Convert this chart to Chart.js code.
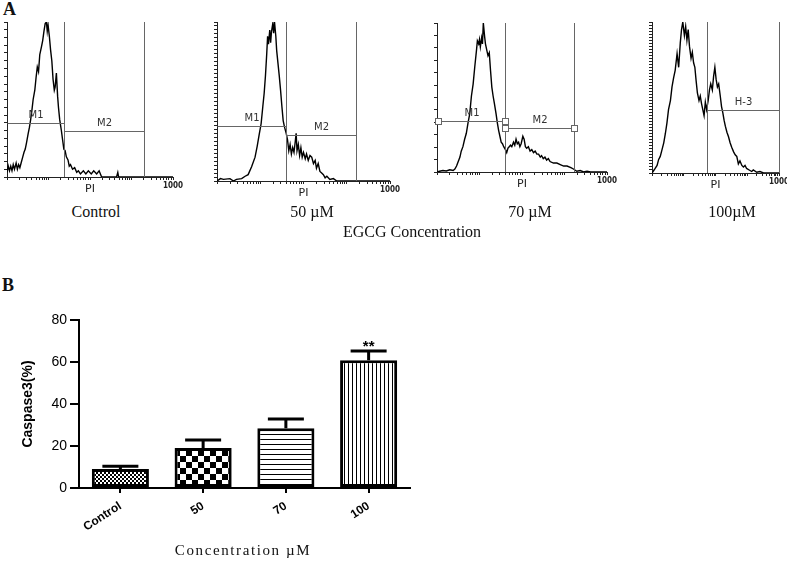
<!DOCTYPE html>
<html>
<head>
<meta charset="utf-8">
<script src="https://cdn.jsdelivr.net/npm/chart.js@4.4.1/dist/chart.umd.min.js"></script>
<style>
  body { margin: 0; background: #fff; }
  #fig { position: relative; width: 787px; height: 566px; overflow: hidden;
         font-family: "Liberation Serif", "Times New Roman", serif; color: #111; }
  canvas { position: absolute; }
  .t { position: absolute; transform: translate(-50%, -50%); white-space: nowrap; font-size: 16px; }
  .panel { position: absolute; font-weight: bold; font-size: 18px; }
</style>
</head>
<body>
<div id="fig">
  <div class="panel" style="left:3px;top:-1px">A</div>
  <div class="panel" style="left:2px;top:275px">B</div>
  <canvas id="histControl"></canvas>
  <canvas id="hist50"></canvas>
  <canvas id="hist70"></canvas>
  <canvas id="hist100"></canvas>
  <canvas id="barChart"></canvas>
  <div class="t" style="left:96px;top:212px">Control</div>
  <div class="t" style="left:312px;top:212px">50 µM</div>
  <div class="t" style="left:530px;top:212px">70 µM</div>
  <div class="t" style="left:732px;top:212px">100µM</div>
  <div class="t" style="left:412px;top:232px">EGCG Concentration</div>
  <div class="t" style="left:243px;top:550px;font-size:15px;letter-spacing:1.6px">Concentration µM</div>
</div>
<script>
// PI fluorescence in log decades (0..4), counts as % of the histogram peak
const controlPI = [0, 0.03, 0.06, 0.09, 0.12, 0.15, 0.18, 0.22, 0.25, 0.28,
  0.31, 0.34, 0.38, 0.41, 0.44, 0.47, 0.51, 0.54, 0.57, 0.60,
  0.63, 0.67, 0.70, 0.73, 0.76, 0.79, 0.83, 0.86, 0.89, 0.92,
  0.95, 0.97, 0.99, 1.02, 1.05, 1.08, 1.11, 1.14, 1.16, 1.19,
  1.22, 1.24, 1.27, 1.31, 1.34, 1.37, 1.40, 1.43, 1.47, 1.50,
  1.53, 1.58, 1.63, 1.68, 1.72, 1.77, 1.84, 1.90, 1.96, 2.03,
  2.09, 2.16, 2.22, 2.28, 2.64, 2.67, 2.69, 4.0];
const controlCounts = [3, 7, 4, 7, 4, 8, 5, 9, 5, 8,
  6, 9, 13, 16, 18, 22, 28, 32, 37, 43,
  50, 56, 64, 71, 68, 79, 84, 88, 94, 99,
  100, 94, 98, 91, 82, 75, 63, 56, 58, 67,
  52, 45, 37, 30, 24, 18, 17, 13, 11, 7,
  8, 5, 6, 3, 4, 2, 4, 2, 4, 2,
  4, 2, 4, 0, 0, 3, 0, 0];

const egcg50PI = [0, 0.08, 0.15, 0.30, 0.38, 0.45, 0.57, 0.65, 0.72, 0.80,
  0.88, 0.93, 0.98, 1.02, 1.06, 1.09, 1.12, 1.15, 1.17, 1.19,
  1.22, 1.24, 1.26, 1.29, 1.31, 1.33, 1.36, 1.38, 1.41, 1.44,
  1.47, 1.50, 1.53, 1.56, 1.60, 1.63, 1.66, 1.69, 1.72, 1.75,
  1.78, 1.81, 1.83, 1.85, 1.88, 1.91, 1.94, 1.97, 2.00, 2.04,
  2.07, 2.11, 2.15, 2.19, 2.23, 2.27, 2.30, 2.34, 2.38, 2.42,
  2.46, 2.50, 2.54, 2.61, 2.69, 2.77, 4.0];
const egcg50Counts = [0, 1.5, 1, 1.5, 0, 1, 1.5, 3, 4, 9,
  15, 22, 30, 36, 47, 55, 66, 80, 91, 86,
  95, 87, 94, 99, 93, 100, 91, 82, 74, 66,
  57, 47, 38, 34, 30, 26, 19, 23, 17, 21,
  18, 25, 30, 19, 23, 16, 21, 15, 18, 14,
  17, 13, 16, 15, 11, 13, 8, 11, 6, 5,
  4, 2, 3, 1, 1.5, 0, 0];

const egcg70PI = [0, 0.06, 0.14, 0.22, 0.30, 0.38, 0.42, 0.46, 0.50, 0.54,
  0.57, 0.61, 0.65, 0.69, 0.73, 0.77, 0.81, 0.85, 0.89, 0.93,
  0.95, 0.98, 1.00, 1.02, 1.05, 1.07, 1.09, 1.12, 1.14, 1.17,
  1.20, 1.23, 1.26, 1.29, 1.32, 1.35, 1.39, 1.42, 1.45, 1.48,
  1.51, 1.54, 1.57, 1.61, 1.64, 1.67, 1.70, 1.73, 1.76, 1.80,
  1.83, 1.86, 1.89, 1.92, 1.95, 1.98, 2.02, 2.05, 2.08, 2.11,
  2.15, 2.19, 2.23, 2.27, 2.31, 2.35, 2.39, 2.43, 2.46, 2.50,
  2.54, 2.58, 2.62, 2.66, 2.74, 2.82, 2.90, 2.98, 3.06, 3.15,
  3.21, 3.29, 3.37, 3.45, 3.53, 3.61, 4.0];
const egcg70Counts = [0, 0.5, 1, 0.7, 1.5, 1, 2, 4, 7, 10,
  14, 17, 22, 26, 33, 39, 51, 59, 71, 82,
  88, 86, 89, 84, 90, 86, 100, 91, 86, 82,
  78, 80, 68, 57, 51, 46, 39, 33, 28, 24,
  20, 19, 17, 15, 13, 16, 17, 18, 17, 20,
  18, 22, 19, 20, 17, 19, 24, 22, 17, 16,
  17, 14, 15, 13, 14, 12, 12, 10, 11, 9,
  10, 8, 9, 7, 6, 6, 5, 4, 4, 3,
  2, 0.5, 1, 0, 0.5, 0, 0];

const egcg100PI = [0, 0.05, 0.10, 0.16, 0.21, 0.26, 0.31, 0.37, 0.42, 0.47,
  0.52, 0.58, 0.63, 0.68, 0.73, 0.79, 0.84, 0.89, 0.93, 0.97,
  1.02, 1.06, 1.10, 1.14, 1.18, 1.23, 1.27, 1.31, 1.35, 1.39,
  1.43, 1.48, 1.52, 1.56, 1.60, 1.64, 1.68, 1.72, 1.77, 1.81,
  1.85, 1.90, 1.94, 1.98, 2.02, 2.06, 2.10, 2.15, 2.19, 2.23,
  2.27, 2.31, 2.36, 2.41, 2.46, 2.51, 2.57, 2.62, 2.67, 2.72,
  2.77, 2.83, 2.88, 2.93, 2.98, 3.06, 3.14, 3.19, 3.30, 3.40,
  3.51, 4.0];
const egcg100Counts = [0, 1.5, 3, 5, 9, 11, 15, 20, 26, 33,
  42, 48, 57, 63, 68, 79, 70, 86, 95, 100,
  91, 97, 88, 95, 84, 76, 80, 73, 70, 61,
  53, 48, 51, 46, 42, 38, 47, 42, 48, 55,
  59, 55, 64, 70, 62, 57, 59, 51, 44, 40,
  35, 31, 27, 24, 20, 17, 14, 12, 11, 6,
  8, 5, 4, 5, 3, 2, 1, 2, 0.5, 1,
  0, 0];

// marker gates (PI decades, level in % of peak)
const controlMarkers = [1.38, 3.31];
const controlGates = [
  { label: "M1", from: 0, to: 1.38, level: 34.8 },
  { label: "M2", from: 1.38, to: 3.31, level: 29.7 },
];
const egcg50Markers = [1.60, 3.21];
const egcg50Gates = [
  { label: "M1", from: 0, to: 1.60, level: 34.4 },
  { label: "M2", from: 1.60, to: 3.21, level: 29.1 },
];
const egcg70Markers = [1.59, 3.23];
const egcg70Gates = [
  { label: "M1", from: 0.02, to: 1.59, level: 34.5 },
  { label: "M2", from: 1.59, to: 3.23, level: 29.6 },
];
const egcg100Markers = [1.74, 4.0];
const egcg100Gates = [
  { label: "H-3", from: 1.74, to: 4.0, level: 41.9 },
];

// panel B
const concentrations = ["Control", "50", "70", "100"];
const caspase3 = [9, 19, 28.5, 60.8];
const caspase3Err = [1.4, 3.8, 4.3, 4.4];
const significance = ["", "", "", "**"];

const logTicks = [];
for (let k = 0; k < 4; k++) {
  for (let m = 1; m < 10; m++) logTicks.push(k + Math.log10(m));
}
logTicks.push(4);

const gatePlugin = {
  id: "gates",
  afterDatasetsDraw(chart, args, opts) {
    const { ctx, chartArea: area, scales } = chart;
    const x = scales.x;
    const y = scales.y;
    const px = (v) => Math.round(x.getPixelForValue(v)) + 0.5;
    const py = (v) => Math.round(y.getPixelForValue(v)) + 0.5;
    ctx.save();
    ctx.strokeStyle = "#666";
    ctx.lineWidth = 1;
    opts.markers.forEach((m) => {
      ctx.beginPath();
      ctx.moveTo(px(m), area.top);
      ctx.lineTo(px(m), area.bottom);
      ctx.stroke();
    });
    ctx.font = '10px "DejaVu Sans"';
    ctx.fillStyle = "#333";
    ctx.textAlign = "center";
    ctx.textBaseline = "bottom";
    opts.gates.forEach((g) => {
      const yy = py(g.level);
      ctx.beginPath();
      ctx.moveTo(px(g.from), yy);
      ctx.lineTo(px(g.to), yy);
      ctx.stroke();
      ctx.fillText(g.label, (px(g.from) + px(g.to)) / 2, yy - 3);
      if (opts.squares) {
        [g.from, g.to].forEach((v) => {
          ctx.fillStyle = "#fff";
          ctx.fillRect(px(v) - 3, yy - 3, 6, 6);
          ctx.strokeRect(px(v) - 3, yy - 3, 6, 6);
          ctx.fillStyle = "#333";
        });
      }
    });
    ctx.fillStyle = "#222";
    ctx.font = '11px "DejaVu Sans"';
    ctx.textBaseline = "middle";
    ctx.fillText("PI", (area.left + area.right) / 2, area.bottom + 12);
    ctx.font = 'bold 8px "DejaVu Sans Condensed", "DejaVu Sans"';
    ctx.fillText("1000", area.right, area.bottom + 9);
    ctx.restore();
  },
};

function makeHistogram(id, box, pi, counts, markers, gates, yStep, squares) {
  const yw = 8, padTop = 4, padRight = 18, xh = 24;
  const canvas = document.getElementById(id);
  canvas.width = box.right - box.left + yw + padRight;
  canvas.height = box.bottom - box.top + padTop + xh;
  canvas.style.left = box.left - yw + "px";
  canvas.style.top = box.top - padTop + "px";

  const yTicks = [];
  for (let v = 0; v <= 100.001; v += yStep) yTicks.push({ value: v });

  new Chart(canvas.getContext("2d"), {
    type: "line",
    data: {
      datasets: [
        {
          data: pi.map((v, i) => ({ x: v, y: counts[i] })),
          borderColor: "#000",
          borderWidth: 1.4,
          pointRadius: 0,
          tension: 0,
          fill: false,
        },
      ],
    },
    options: {
      responsive: false,
      animation: false,
      events: [],
      layout: { padding: { top: padTop, right: padRight, left: 0, bottom: 0 } },
      plugins: {
        legend: { display: false },
        tooltip: { enabled: false },
        gates: { markers, gates, squares },
      },
      scales: {
        x: {
          type: "linear",
          min: 0,
          max: 4,
          afterFit: (s) => { s.height = xh; },
          afterBuildTicks: (s) => { s.ticks = logTicks.map((v) => ({ value: v })); },
          ticks: { display: false },
          grid: { drawOnChartArea: false, tickLength: 3, color: "#222" },
          border: { color: "#222" },
        },
        y: {
          min: 0,
          max: 100,
          afterFit: (s) => { s.width = yw; },
          afterBuildTicks: (s) => { s.ticks = yTicks; },
          ticks: { display: false },
          grid: { drawOnChartArea: false, tickLength: 3, color: "#222" },
          border: { color: "#222" },
        },
      },
    },
    plugins: [gatePlugin],
  });
}

makeHistogram("histControl", { left: 7, top: 22, right: 173, bottom: 177 },
  controlPI, controlCounts, controlMarkers, controlGates, 5, false);
makeHistogram("hist50", { left: 217, top: 22, right: 390, bottom: 181 },
  egcg50PI, egcg50Counts, egcg50Markers, egcg50Gates, 2.5, false);
makeHistogram("hist70", { left: 437, top: 23, right: 607, bottom: 172 },
  egcg70PI, egcg70Counts, egcg70Markers, egcg70Gates, 8.33, true);
makeHistogram("hist100", { left: 652, top: 22, right: 779, bottom: 173 },
  egcg100PI, egcg100Counts, egcg100Markers, egcg100Gates, 2, false);

// bar fill patterns
function makePattern(w, h, paint) {
  const c = document.createElement("canvas");
  c.width = w;
  c.height = h;
  const g = c.getContext("2d");
  g.fillStyle = "#fff";
  g.fillRect(0, 0, w, h);
  g.fillStyle = "#000";
  paint(g);
  return g.createPattern(c, "repeat");
}

const barCanvas = document.getElementById("barChart");
barCanvas.width = 430;
barCanvas.height = 266;
barCanvas.style.left = "0px";
barCanvas.style.top = "300px";
const barCtx = barCanvas.getContext("2d");

const patterns = [
  makePattern(4, 4, (g) => { g.fillRect(0, 0, 2, 2); g.fillRect(2, 2, 2, 2); }),
  makePattern(12, 12, (g) => { g.fillRect(0, 0, 6, 6); g.fillRect(6, 6, 6, 6); }),
  makePattern(1, 5, (g) => { g.fillRect(0, 4, 1, 1); }),
  makePattern(4, 1, (g) => { g.fillRect(0, 0, 1, 1); }),
];

const errorBarPlugin = {
  id: "errorBars",
  afterDatasetsDraw(chart) {
    const { ctx } = chart;
    const y = chart.scales.y;
    const meta = chart.getDatasetMeta(0);
    ctx.save();
    ctx.strokeStyle = "#000";
    ctx.lineWidth = 3;
    ctx.fillStyle = "#000";
    ctx.font = 'bold 15px "Liberation Sans"';
    ctx.textAlign = "center";
    ctx.textBaseline = "alphabetic";
    meta.data.forEach((bar, i) => {
      const top = y.getPixelForValue(caspase3[i]);
      const cap = y.getPixelForValue(caspase3[i] + caspase3Err[i]);
      ctx.beginPath();
      ctx.moveTo(bar.x, top);
      ctx.lineTo(bar.x, cap);
      ctx.moveTo(bar.x - 18, cap);
      ctx.lineTo(bar.x + 18, cap);
      ctx.stroke();
      if (significance[i]) ctx.fillText(significance[i], bar.x, cap);
    });
    ctx.restore();
  },
};

new Chart(barCtx, {
  type: "bar",
  data: {
    labels: concentrations,
    datasets: [
      {
        data: caspase3,
        backgroundColor: patterns,
        borderColor: "#000",
        borderWidth: 3,
        borderSkipped: false,
        barPercentage: 0.69,
        categoryPercentage: 1,
      },
    ],
  },
  options: {
    responsive: false,
    animation: false,
    events: [],
    layout: { padding: { top: 20, right: 20, left: 0, bottom: 0 } },
    plugins: {
      legend: { display: false },
      tooltip: { enabled: false },
    },
    scales: {
      x: {
        afterFit: (s) => { s.height = 78; },
        grid: { offset: false, drawOnChartArea: false, tickLength: 5, color: "#000", lineWidth: 2 },
        border: { color: "#000", width: 2 },
        ticks: {
          minRotation: 33,
          maxRotation: 33,
          padding: 6,
          color: "#000",
          font: { family: "Liberation Sans", size: 12, weight: "bold" },
        },
      },
      y: {
        min: 0,
        max: 80,
        afterFit: (s) => { s.width = 79; },
        ticks: {
          stepSize: 20,
          padding: 3,
          color: "#000",
          font: { family: "Liberation Sans", size: 14 },
        },
        grid: { drawOnChartArea: false, tickLength: 9, color: "#000", lineWidth: 2 },
        border: { color: "#000", width: 2 },
        title: {
          display: true,
          text: "Caspase3(%)",
          color: "#000",
          padding: { top: 20, bottom: 0 },
          font: { family: "Liberation Sans", size: 14, weight: "bold" },
        },
      },
    },
  },
  plugins: [errorBarPlugin],
});
</script>
</body>
</html>
